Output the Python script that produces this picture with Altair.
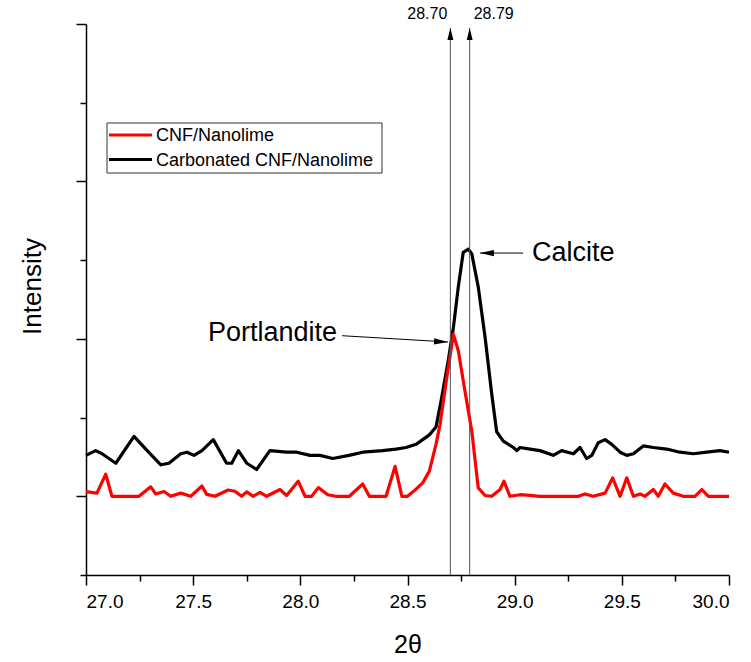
import altair as alt
import pandas as pd

# ---- data ----
series_names = ["CNF/Nanolime", "Carbonated CNF/Nanolime"]
series_colors = ["#ff0000", "#000000"]

two_theta_carb = [27.000, 27.045, 27.075, 27.139, 27.224, 27.279, 27.349, 27.387, 27.442, 27.471,
                  27.504, 27.541, 27.594, 27.656, 27.680, 27.711, 27.750, 27.796, 27.858, 27.936,
                  27.983, 28.045, 28.092, 28.151, 28.227, 28.291, 28.384, 28.446, 28.493, 28.540,
                  28.571, 28.602, 28.633, 28.660, 28.690, 28.714, 28.737, 28.760, 28.784, 28.800,
                  28.830, 28.862, 28.893, 28.916, 28.947, 28.994, 29.010, 29.025, 29.072, 29.118,
                  29.180, 29.219, 29.274, 29.305, 29.336, 29.360, 29.390, 29.422, 29.453, 29.492,
                  29.523, 29.554, 29.600, 29.647, 29.709, 29.771, 29.834, 29.896, 29.958, 30.000]
intensity_carb = [0.26, 0.29, 0.27, 0.21, 0.38, 0.30, 0.20, 0.21, 0.27, 0.28,
                  0.26, 0.29, 0.36, 0.21, 0.21, 0.29, 0.21, 0.17, 0.29, 0.28,
                  0.28, 0.26, 0.26, 0.24, 0.26, 0.28, 0.29, 0.30, 0.31, 0.33,
                  0.36, 0.39, 0.44, 0.63, 0.86, 1.07, 1.33, 1.55, 1.57, 1.54,
                  1.33, 1.01, 0.65, 0.41, 0.35, 0.31, 0.29, 0.31, 0.30, 0.29,
                  0.26, 0.29, 0.27, 0.31, 0.24, 0.26, 0.34, 0.36, 0.33, 0.28,
                  0.26, 0.27, 0.32, 0.31, 0.30, 0.28, 0.27, 0.28, 0.29, 0.28]

two_theta_cnf = [27.000, 27.051, 27.092, 27.121, 27.247, 27.302, 27.325, 27.364, 27.395, 27.442,
                 27.489, 27.541, 27.563, 27.602, 27.663, 27.695, 27.726, 27.750, 27.779, 27.812,
                 27.843, 27.905, 27.936, 27.990, 28.022, 28.053, 28.084, 28.128, 28.166, 28.229,
                 28.291, 28.322, 28.400, 28.442, 28.474, 28.500, 28.532, 28.571, 28.602, 28.633,
                 28.652, 28.683, 28.714, 28.737, 28.768, 28.800, 28.830, 28.862, 28.893, 28.932,
                 28.950, 28.978, 29.025, 29.072, 29.118, 29.227, 29.297, 29.328, 29.367, 29.422,
                 29.457, 29.492, 29.523, 29.554, 29.585, 29.608, 29.647, 29.670, 29.701, 29.740,
                 29.787, 29.841, 29.873, 29.904, 30.000]
intensity_cnf = [0.03, 0.02, 0.14, 0.0, 0.0, 0.06, 0.015, 0.03, 0.0, 0.02,
                 0.0, 0.065, 0.012, 0.0, 0.04, 0.032, 0.0, 0.028, 0.0, 0.025,
                 0.0, 0.043, 0.005, 0.096, 0.0, 0.0, 0.055, 0.01, 0.0, 0.0,
                 0.078, 0.0, 0.0, 0.19, 0.0, 0.0, 0.036, 0.085, 0.16, 0.33,
                 0.457, 0.753, 1.03, 0.924, 0.669, 0.414, 0.053, 0.005, 0.0, 0.043,
                 0.096, 0.0, 0.01, 0.006, 0.0, 0.0, 0.0, 0.015, 0.0, 0.02,
                 0.117, 0.0, 0.117, 0.0, 0.015, 0.0, 0.043, 0.0, 0.078, 0.02,
                 0.0, 0.0, 0.043, 0.0, 0.0]

peak_positions = [28.70, 28.79]
peak_labels = ["28.70", "28.79"]
x_ticks = [27.0, 27.25, 27.5, 27.75, 28.0, 28.25, 28.5, 28.75, 29.0, 29.25, 29.5, 29.75, 30.0]
y_ticks = [-0.5, 0.0, 0.5, 1.0, 1.5, 2.0, 2.5, 3.0]

# annotation anchors (data units)
calcite_tip = (28.838, 1.545)
calcite_tail = (29.039, 1.545)
calcite_text = (29.081, 1.545)
portl_tail = (28.195, 1.02)
portl_tip = (28.689, 0.98)
portl_text = (28.171, 1.037)

SANS = "Liberation Sans, Arial, sans-serif"

xs = alt.Scale(domain=[27, 30], nice=False, zero=False)
ys = alt.Scale(domain=[-0.5, 3], nice=False, zero=False)

x_axis = alt.Axis(
    values=x_ticks,
    title="2θ",
    titleFont=SANS, titleFontSize=25, titleFontWeight="normal", titleColor="black",
    titlePadding=21,
    labelFont=SANS, labelFontSize=19, labelColor="black", labelPadding=7,
    labelExpr="datum.value % 0.5 === 0 ? format(datum.value, '.1f') : ''",
    tickSize={"condition": {"test": "datum.value % 0.5 === 0", "value": 10}, "value": 6},
    tickColor="black", tickWidth=1.5,
    domainColor="black", domainWidth=1.5, grid=False,
)
y_axis = alt.Axis(
    values=y_ticks,
    title="Intensity",
    titleFont=SANS, titleFontSize=26, titleFontWeight="normal", titleColor="black",
    titleX=-54, titleY=262, titleBaseline="middle", titleAlign="center", titleAngle=270,
    labels=False,
    tickSize={"condition": {"test": "datum.value % 1 === 0", "value": 10}, "value": 6},
    tickColor="black", tickWidth=1.5,
    domainColor="black", domainWidth=1.5, grid=False,
)


def X(field):
    return alt.X(field, scale=xs, axis=x_axis)


def Y(field):
    return alt.Y(field, scale=ys, axis=y_axis)


df_carb = pd.DataFrame({"x": two_theta_carb, "y": intensity_carb, "s": series_names[1]})
df_cnf = pd.DataFrame({"x": two_theta_cnf, "y": intensity_cnf, "s": series_names[0]})

black_line = alt.Chart(df_carb).mark_line(
    color=series_colors[1], strokeWidth=3.2, strokeJoin="round"
).encode(x=X("x:Q"), y=Y("y:Q"))
red_line = alt.Chart(df_cnf).mark_line(
    color=series_colors[0], strokeWidth=3.2, strokeJoin="round"
).encode(x=X("x:Q"), y=Y("y:Q"))

# vertical peak markers
df_peaks = pd.DataFrame({"x": peak_positions, "label": peak_labels,
                         "y0": [-0.5, -0.5], "y1": [2.975, 2.975], "yt": [3.064, 3.064]})
peak_rules = alt.Chart(df_peaks).mark_rule(color="#555555", strokeWidth=1).encode(
    x=X("x:Q"), y=Y("y0:Q"), y2="y1:Q",
)
peak_heads = alt.Chart(df_peaks).mark_point(
    shape="M0,0L0.5,2L-0.5,2Z", size=144, filled=True, color="black", opacity=1, strokeWidth=0
).encode(x=X("x:Q"), y=Y("y1:Q"))
peak_text_left = alt.Chart(df_peaks.iloc[[0]]).mark_text(
    align="right", baseline="middle", dx=-3, font=SANS, fontSize=16, color="black"
).encode(x=X("x:Q"), y=Y("yt:Q"), text="label:N")
peak_text_right = alt.Chart(df_peaks.iloc[[1]]).mark_text(
    align="left", baseline="middle", dx=4, font=SANS, fontSize=16, color="black"
).encode(x=X("x:Q"), y=Y("yt:Q"), text="label:N")

# Calcite annotation
df_cal = pd.DataFrame({"x": [calcite_tip[0]], "x2": [calcite_tail[0]], "y": [calcite_tip[1]],
                       "tx": [calcite_text[0]], "ty": [calcite_text[1]], "t": ["Calcite"]})
cal_line = alt.Chart(df_cal).mark_rule(color="black", strokeWidth=1).encode(
    x=X("x:Q"), x2="x2:Q", y=Y("y:Q"))
cal_head = alt.Chart(df_cal).mark_point(
    shape="M0,0L2,-0.45L2,0.45Z", size=196, filled=True, color="black", opacity=1, strokeWidth=0
).encode(x=X("x:Q"), y=Y("y:Q"))
cal_text = alt.Chart(df_cal).mark_text(
    align="left", baseline="middle", font=SANS, fontSize=27, color="black"
).encode(x=X("tx:Q"), y=Y("ty:Q"), text="t:N")

# Portlandite annotation
df_por = pd.DataFrame({"x": [portl_tail[0]], "x2": [portl_tip[0]], "y": [portl_tail[1]],
                       "y2": [portl_tip[1]], "tx": [portl_text[0]], "ty": [portl_text[1]],
                       "t": ["Portlandite"]})
por_line = alt.Chart(df_por).mark_rule(color="black", strokeWidth=1).encode(
    x=X("x:Q"), x2="x2:Q", y=Y("y:Q"), y2="y2:Q")
por_head = alt.Chart(df_por).mark_point(
    shape="M0,0L-2,-0.45L-2,0.45Z", size=196, filled=True, color="black", opacity=1,
    strokeWidth=0, angle=3
).encode(x=X("x2:Q"), y=Y("y2:Q"))
por_text = alt.Chart(df_por).mark_text(
    align="right", baseline="middle", font=SANS, fontSize=27, color="black"
).encode(x=X("tx:Q"), y=Y("ty:Q"), text="t:N")

# Legend (drawn manually, pixel offsets inside the plot area)
legend_box = alt.Chart(pd.DataFrame({"a": [0]})).mark_rect(
    fill="white", stroke="#333333", strokeWidth=1
).encode(x=alt.value(21), x2=alt.value(296), y=alt.value(99), y2=alt.value(149))
legend_layers = [legend_box]
for i, (name, col) in enumerate(zip(series_names, series_colors)):
    yy = 111 + i * 24.5
    d = pd.DataFrame({"name": [name]})
    legend_layers.append(
        alt.Chart(d).mark_rule(color=col, strokeWidth=3).encode(
            x=alt.value(23), x2=alt.value(66), y=alt.value(yy))
    )
    legend_layers.append(
        alt.Chart(d).mark_text(align="left", baseline="middle", font=SANS, fontSize=18,
                               color="black").encode(
            x=alt.value(70), y=alt.value(yy + 1), text="name:N")
    )

chart = alt.layer(
    black_line, red_line, peak_rules, peak_heads, peak_text_left, peak_text_right,
    cal_line, cal_head, cal_text, por_line, por_head, por_text, *legend_layers
).properties(
    width=643, height=551,
    autosize=alt.AutoSizeParams(type="none"),
    padding={"left": 86, "top": 24, "right": 22, "bottom": 87},
    background="white",
).configure_view(stroke=None)

chart.save("out.html", embed_options={"renderer": "svg", "actions": False})
